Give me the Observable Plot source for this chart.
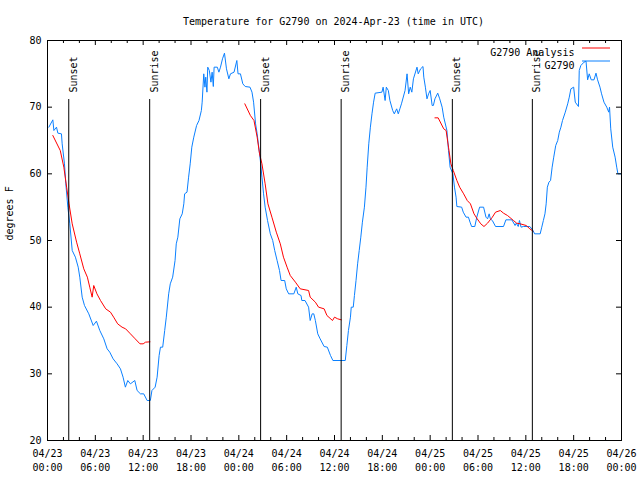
<!DOCTYPE html>
<html>
<head>
<meta charset="utf-8">
<script src="https://cdn.jsdelivr.net/npm/d3@7"></script>
<script src="https://cdn.jsdelivr.net/npm/@observablehq/plot@0.6"></script>
<style>
  html, body { margin: 0; padding: 0; background: #fff; }
  #chart svg { display: block; }
</style>
</head>
<body>
<div id="chart"></div>
<script>
// ---- data (hours since 2024-04-23 00:00 UTC, degrees F) ----
const startTime = "2024-04-23T00:00:00Z";
const titleText = "Temperature for G2790 on 2024-Apr-23 (time in UTC)";
const yLabel = "degrees F";
const seriesNames = ["G2790 Analysis", "G2790"];
const seriesColors = ["#ff0000", "#0a80ff"];

const obsHours = [0.17,0.67,0.8,1.13,1.3,1.75,1.84,2.13,2.3,2.55,2.8,3.1,3.5,3.85,4.05,4.35,4.64,5.18,5.73,6.14,6.56,7.06,7.48,7.81,8.23,8.73,9.15,9.48,9.77,10.07,10.4,10.95,11.24,11.66,12.07,12.5,12.9,13.1,13.5,13.75,14.0,14.17,14.45,14.7,14.9,15.2,15.4,15.7,16.0,16.15,16.35,16.6,16.9,17.1,17.2,17.5,17.7,17.9,18.1,18.35,18.7,19.0,19.3,19.4,19.6,19.75,19.85,20.0,20.1,20.3,20.5,20.65,20.8,20.9,21.3,21.5,21.7,21.95,22.2,22.45,22.75,22.95,23.4,23.75,23.9,24.2,24.5,24.8,25.4,25.65,25.85,26.1,26.3,26.5,26.7,26.9,27.1,27.3,27.6,27.95,28.25,28.5,28.8,29.1,29.3,29.75,29.95,30.25,30.9,31.2,31.4,31.8,31.9,32.3,32.75,32.95,33.2,33.4,33.6,33.9,34.2,34.7,35.1,35.5,35.8,37.35,37.55,37.75,38.0,38.1,38.35,38.5,38.7,38.9,39.1,39.3,39.5,39.75,39.95,40.1,40.3,40.5,40.7,40.9,41.1,41.95,42.1,42.35,42.5,42.75,42.95,43.3,43.5,43.8,44.0,44.2,44.4,44.85,45.1,45.3,45.5,45.7,45.9,46.35,46.5,46.8,47.1,47.2,47.4,47.6,47.8,48.0,48.25,48.4,48.6,48.95,49.2,49.5,49.7,50.1,50.3,50.5,50.85,51.05,51.25,51.35,51.95,52.15,52.5,52.8,53.0,53.2,53.6,53.85,54.2,54.7,55.0,55.2,55.4,55.55,55.8,56.2,57.2,57.5,58.25,58.65,58.8,59.05,59.2,59.4,59.7,60.5,60.9,61.1,61.8,62.0,62.2,62.4,62.55,62.7,62.9,63.1,63.3,63.5,63.75,64.0,64.2,64.4,64.6,64.95,65.25,65.45,65.65,66.0,66.2,66.6,66.7,66.9,67.3,67.55,67.75,67.95,68.2,68.55,68.8,69.0,69.3,69.5,69.8,70.15,70.4,70.5,70.65,70.9,71.2,71.4,71.55,72.0];
const obsTemps = [67.0,68.1,66.5,67.0,66.1,66.0,64.5,61.5,58.5,55.0,52.5,48.5,47.5,46.0,44.5,41.5,40.25,39.0,37.25,37.9,36.5,35.25,33.75,33.25,32.25,31.5,30.75,29.5,28.0,29.0,28.5,29.0,27.5,27.0,27.0,26.0,26.0,27.5,28.0,29.5,32.75,34.0,34.0,36.5,38.5,42.0,43.5,44.5,47.0,49.5,50.5,53.25,54.0,55.5,57.0,57.25,59.5,61.5,64.0,65.5,67.25,68.0,69.5,70.75,75.0,73.0,74.5,72.25,76.0,75.5,73.75,75.25,73.1,76.0,76.0,75.25,76.0,77.25,78.1,75.75,74.25,75.0,75.25,77.0,75.0,75.0,73.5,73.1,73.0,72.25,70.75,67.5,66.0,64.0,62.0,59.5,57.0,55.0,53.0,51.0,50.0,48.5,47.0,45.5,44.0,44.0,42.75,42.0,42.0,43.0,42.0,41.75,41.0,41.0,40.0,38.0,39.0,39.0,38.0,36.0,35.25,34.1,34.0,32.75,32.0,32.0,34.25,36.5,38.5,40.0,40.0,41.75,44.0,46.5,48.5,50.5,52.75,55.0,58.0,61.0,64.5,67.0,69.0,70.75,72.1,72.25,73.0,71.0,73.0,72.5,71.0,69.5,69.0,69.75,69.0,69.75,70.5,72.5,75.0,72.0,73.0,72.25,74.25,76.0,75.0,75.75,76.1,74.5,73.0,71.25,72.0,72.5,70.25,70.25,71.25,72.1,71.25,70.0,68.5,66.5,63.5,61.0,60.0,58.0,56.5,55.1,55.0,54.25,53.5,53.5,52.75,52.1,52.1,53.5,55.0,55.0,53.5,53.25,54.0,53.25,53.0,52.1,52.1,53.1,53.1,52.25,52.6,52.1,53.0,52.0,52.1,52.1,51.5,51.0,51.0,52.0,53.0,54.0,55.5,58.0,58.75,59.0,61.0,62.5,64.25,65.0,66.25,67.0,68.0,69.25,70.5,71.5,72.75,73.0,70.75,70.1,75.5,76.25,76.75,76.9,74.1,75.0,74.1,74.1,75.1,74.1,73.0,72.0,70.75,70.0,69.25,70.0,66.75,64.0,62.5,61.0,60.0,60.0];

// analysis: three evening segments
const anaSegment = [1,1,1,1,1,1,1,1,1,1,1,1,1,1,1,1,1,1,1,1,1,1,1,1,1,1,1, 2,2,2,2,2,2,2,2,2,2,2,2,2,2,2,2,2,2,2,2,2,2,2,2,2,2, 3,3,3,3,3,3,3,3,3,3,3,3,3,3,3,3,3,3,3,3,3,3,3,3,3,3,3,3];
const anaHours = [0.67,1.6,2.05,2.4,2.7,3.1,3.65,4.05,4.55,5.0,5.3,5.6,5.8,6.2,6.65,7.3,7.9,8.3,8.8,9.35,9.8,10.4,11.0,11.6,12.0,12.3,12.85,
  24.75,25.45,25.9,26.3,26.6,26.9,27.3,27.65,28.15,28.7,29.2,29.6,30.05,30.45,31.1,31.7,32.75,32.95,33.6,34.0,34.7,35.05,35.75,36.0,36.4,36.85,
  48.6,49.0,49.7,50.0,50.3,50.6,50.9,51.35,51.7,52.2,52.65,53.05,53.5,53.9,54.35,54.75,55.2,55.8,56.2,56.8,57.2,57.7,58.45,58.85,59.3,60.05,60.5,60.9];
const anaTemps = [65.75,63.5,61.0,58.0,55.5,52.5,49.75,48.0,45.75,44.5,43.0,41.5,43.25,42.0,41.0,39.75,39.25,38.5,37.5,37.0,36.75,36.0,35.25,34.5,34.5,34.75,34.8,
  70.5,68.75,68.0,65.5,63.0,61.5,58.5,55.5,53.5,51.25,49.5,47.5,46.0,44.75,43.75,42.75,42.5,41.5,40.75,40.0,39.75,38.75,38.0,38.5,38.25,38.1,
  68.4,68.4,66.75,66.5,64.0,61.5,60.5,59.0,58.0,57.0,56.0,55.5,54.0,53.25,52.5,52.1,52.6,53.5,54.25,54.5,54.1,53.75,53.0,52.6,52.5,52.25,51.75,51.4];

const eventLabels = ["Sunset","Sunrise","Sunset","Sunrise","Sunset","Sunrise"];
const eventTimes = ["2024-04-23T02:40Z","2024-04-23T12:49Z","2024-04-24T02:44Z","2024-04-24T12:50Z","2024-04-25T02:47Z","2024-04-25T12:49Z"];

const yDomain = [20, 80];
const yTicks = [20, 30, 40, 50, 60, 70, 80];
const xDomain = ["2024-04-23T00:00Z", "2024-04-26T00:00Z"];

// ---- build tables ----
const t0 = new Date(startTime);
const toDate = h => new Date(+t0 + h * 3600e3);
const obs = obsHours.map((h, i) => ({time: toDate(h), temp: obsTemps[i]}));
const ana = anaHours.map((h, i) => ({time: toDate(h), temp: anaTemps[i], seg: anaSegment[i]}));
const events = eventTimes.map((t, i) => ({time: new Date(t), label: eventLabels[i]}));
const xd = xDomain.map(d => new Date(d));
const majorTicks = d3.utcHour.every(6).range(xd[0], new Date(+xd[1] + 1));
const minorTicks = d3.utcHour.every(2).range(xd[0], new Date(+xd[1] + 1)).filter(d => d.getUTCHours() % 6 !== 0);
const fmt = d3.utcFormat("%m/%d\n%H:%M");

const font = "'DejaVu Sans Mono', 'Liberation Mono', monospace";
const W = 640, H = 480;
const mL = 47, mR = 19, mT = 40, mB = 40;
const innerH = H - mT - mB;

const plot = Plot.plot({
  width: W, height: H,
  marginLeft: mL, marginRight: mR, marginTop: mT, marginBottom: mB,
  style: {fontFamily: font, fontSize: "10px", background: "#fff", color: "#000"},
  x: {type: "utc", domain: xd, axis: null},
  y: {domain: yDomain, axis: null},
  marks: [
    // data lines
    Plot.line(obs, {x: "time", y: "temp", stroke: seriesColors[1], strokeWidth: 1}),
    Plot.line(ana, {x: "time", y: "temp", z: "seg", stroke: seriesColors[0], strokeWidth: 1}),
    // event lines + labels
    Plot.ruleX(events, {x: "time", stroke: "#000", strokeWidth: 1, insetTop: 59}),
    Plot.text(events, {x: "time", text: "label", frameAnchor: "top", dy: 52, dx: 1, rotate: -90, textAnchor: "start", fontSize: 10}),
    // frame
    Plot.frame({stroke: "#000", strokeWidth: 1}),
    // x ticks (inward, bottom and top)
    Plot.tickX(majorTicks, {x: d => d, stroke: "#000", insetTop: innerH - 5}),
    Plot.tickX(majorTicks, {x: d => d, stroke: "#000", insetBottom: innerH - 5}),
    Plot.tickX(minorTicks, {x: d => d, stroke: "#000", insetTop: innerH - 3}),
    Plot.tickX(minorTicks, {x: d => d, stroke: "#000", insetBottom: innerH - 3}),
    // y ticks (inward, left and right)
    Plot.tickY(yTicks, {y: d => d, stroke: "#000", insetRight: (W - mL - mR) - 5}),
    Plot.tickY(yTicks, {y: d => d, stroke: "#000", insetLeft: (W - mL - mR) - 5}),
    // tick labels
    Plot.text(majorTicks, {x: d => d, text: d => fmt(d), frameAnchor: "bottom", dy: 6, lineAnchor: "top", lineHeight: 1.45, fontSize: 10}),
    Plot.text(yTicks, {y: d => d, text: d => String(d), frameAnchor: "left", dx: -6, textAnchor: "end", fontSize: 10}),
    // title and axis label
    Plot.text([titleText], {frameAnchor: "top", dy: -23, dx: -1, fontSize: 10}),
    Plot.text([yLabel], {frameAnchor: "left", dx: -38, rotate: -90, fontSize: 10}),
    // legend text
    Plot.text([seriesNames[0]], {frameAnchor: "top-right", dx: -47, dy: 8, textAnchor: "end", fontSize: 10}),
    Plot.text([seriesNames[1]], {frameAnchor: "top-right", dx: -47, dy: 21, textAnchor: "end", fontSize: 10})
  ]
});

// legend samples
const svg = d3.select(plot);
[0, 1].forEach(i => {
  svg.append("line")
    .attr("x1", W - mR - 39).attr("x2", W - mR - 11)
    .attr("y1", mT + 8 + 13 * i).attr("y2", mT + 8 + 13 * i)
    .attr("stroke", seriesColors[i]).attr("stroke-width", 1);
});

document.getElementById("chart").appendChild(plot);
</script>
</body>
</html>
